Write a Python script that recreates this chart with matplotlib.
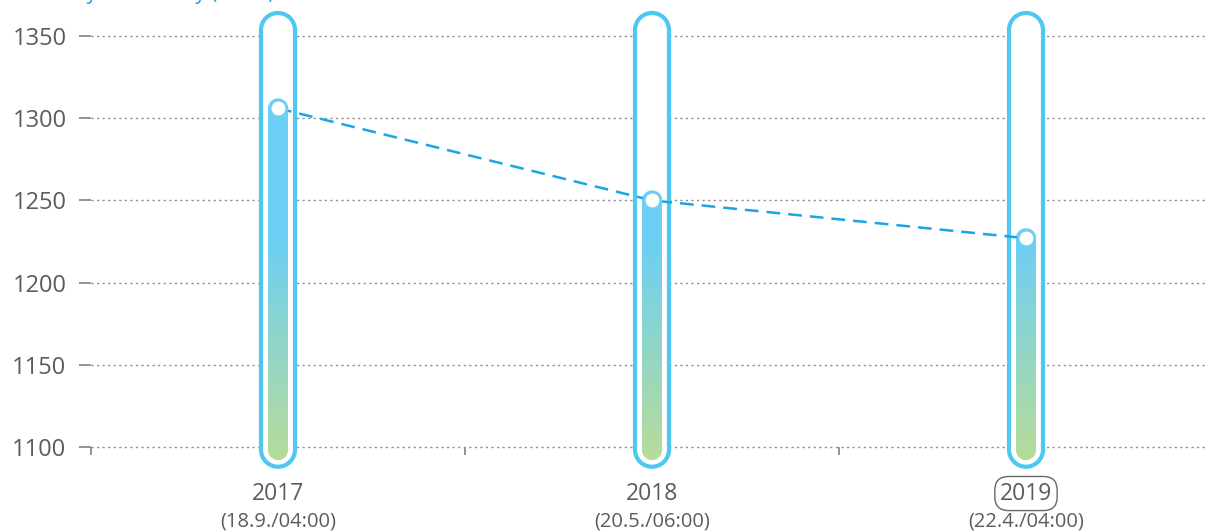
import numpy as np
import matplotlib
matplotlib.use("Agg")
import matplotlib.pyplot as plt
from matplotlib.patches import PathPatch
from matplotlib.path import Path
from matplotlib.transforms import IdentityTransform
from matplotlib.colors import LinearSegmentedColormap, Normalize

# Data
years = ["2017", "2018", "2019"]
dates = ["(18.9./04:00)", "(20.5./06:00)", "(22.4./04:00)"]
levels = [1306, 1250, 1227]
y_ticks = [1100, 1150, 1200, 1250, 1300, 1350]

# Style
TEXT = "#5c5c5c"
GRID = "#8a8a8a"
TRACK_EDGE = "#4cc8f3"
BAR_BLUE = "#6dcff5"
BAR_GREEN = "#b5dc9a"
LINE_BLUE = "#1aa5e5"
TRACK_TOP, TRACK_BOTTOM = 1364, 1088
BAR_BOTTOM = 1092

plt.rcParams["font.family"] = ["Open Sans", "DejaVu Sans"]

W, H = 1207, 531
fig = plt.figure(figsize=(W / 100, H / 100), dpi=100)
ax = fig.add_axes([91 / W, 84 / H, 1122 / W, 411 / H])
x = np.arange(len(years)) + 0.5
ax.set_xlim(0, len(years))
ax.set_ylim(y_ticks[0], y_ticks[-1])
ax.set_autoscale_on(False)

for s in ax.spines.values():
    s.set_visible(False)

ax.set_yticks(y_ticks)
for yt in y_ticks:
    ax.axhline(yt, ls=(0, (1.5, 2.5)), color=GRID, lw=1, zorder=1,
               clip_on=False)
ax.tick_params(axis="y", length=8.6, width=1.3, color=GRID, pad=9,
               labelsize=17, labelcolor=TEXT)
ax.set_xticks(x)
ax.set_xticklabels([])
ax.tick_params(axis="x", which="major", length=0)
ax.set_xticks(np.arange(len(years)), minor=True)
ax.tick_params(axis="x", which="minor", length=6, width=1.3, color=GRID)

cmap = LinearSegmentedColormap.from_list("lvl", [BAR_GREEN, BAR_BLUE])
norm = Normalize(vmin=1095, vmax=1225)
ys = np.linspace(1085, 1360, 300)
grad = norm(ys)[:, None]


def px(xv, yv):
    return ax.transData.transform((xv, yv))


def capsule(cx, y0, y1, r):
    """Vertical capsule path in display pixels, from y0 to y1 (outer)."""
    top = Path.arc(0, 180)
    bot = Path.arc(180, 360)
    v_top = top.vertices * r + [cx, y1 - r]
    v_bot = bot.vertices * r + [cx, y0 + r]
    c_bot = bot.codes.copy()
    c_bot[0] = Path.LINETO
    verts = np.vstack([v_top, v_bot, v_top[:1]])
    codes = np.concatenate([top.codes, c_bot, [Path.CLOSEPOLY]])
    return Path(verts, codes)


for xc, val in zip(x, levels):
    # outer track
    cx, ytop = px(xc, TRACK_TOP)
    _, ybot = px(xc, TRACK_BOTTOM)
    track = PathPatch(capsule(cx, ybot, ytop, 17), transform=IdentityTransform(),
                      fc="white", ec=TRACK_EDGE, lw=3, clip_on=False, zorder=2)
    ax.add_artist(track)

    # gradient bar, top cap centred on the value
    _, yv = px(xc, val)
    _, yb = px(xc, BAR_BOTTOM)
    bar = PathPatch(capsule(cx, yb, yv + 10, 10), transform=IdentityTransform(),
                    fc="none", ec="none")
    ax.add_artist(bar)
    im = ax.imshow(grad, cmap=cmap, vmin=0, vmax=1, aspect="auto",
                   origin="lower", extent=[xc - 0.1, xc + 0.1, ys[0], ys[-1]],
                   zorder=3, interpolation="bilinear")
    im.set_clip_path(bar)
    im.set_clip_box(fig.bbox)

ax.plot(x, levels, ls=(0, (5.5, 3.2)), lw=1.8, color=LINE_BLUE, zorder=5,
        clip_on=False)
ax.plot(x, levels, "o", ms=12, mfc="white", mec=BAR_BLUE, mew=2, zorder=6,
        clip_on=False)

for i, (xc, yr, dt) in enumerate(zip(x, years, dates)):
    box = None
    if i == len(years) - 1:
        box = dict(boxstyle="round,pad=0.22,rounding_size=0.6", fc="none",
                   ec="#666666", lw=1)
    ax.annotate(yr, (xc, 0), xycoords=("data", "axes fraction"),
                xytext=(0, -33.5), textcoords="offset points", ha="center",
                va="center", fontsize=16.5, color=TEXT, bbox=box)
    ax.annotate(dt, (xc, 0), xycoords=("data", "axes fraction"),
                xytext=(0, -54), textcoords="offset points", ha="center",
                va="center", fontsize=14.5, color=TEXT)

# axis title, cut off by the top edge as in the source
fig.text(74 / W, 1 + 1 / H, "Výška hladiny (mnm)", color=LINE_BLUE,
         fontsize=15, ha="left", va="baseline")

fig.savefig("out.png", dpi=100)
